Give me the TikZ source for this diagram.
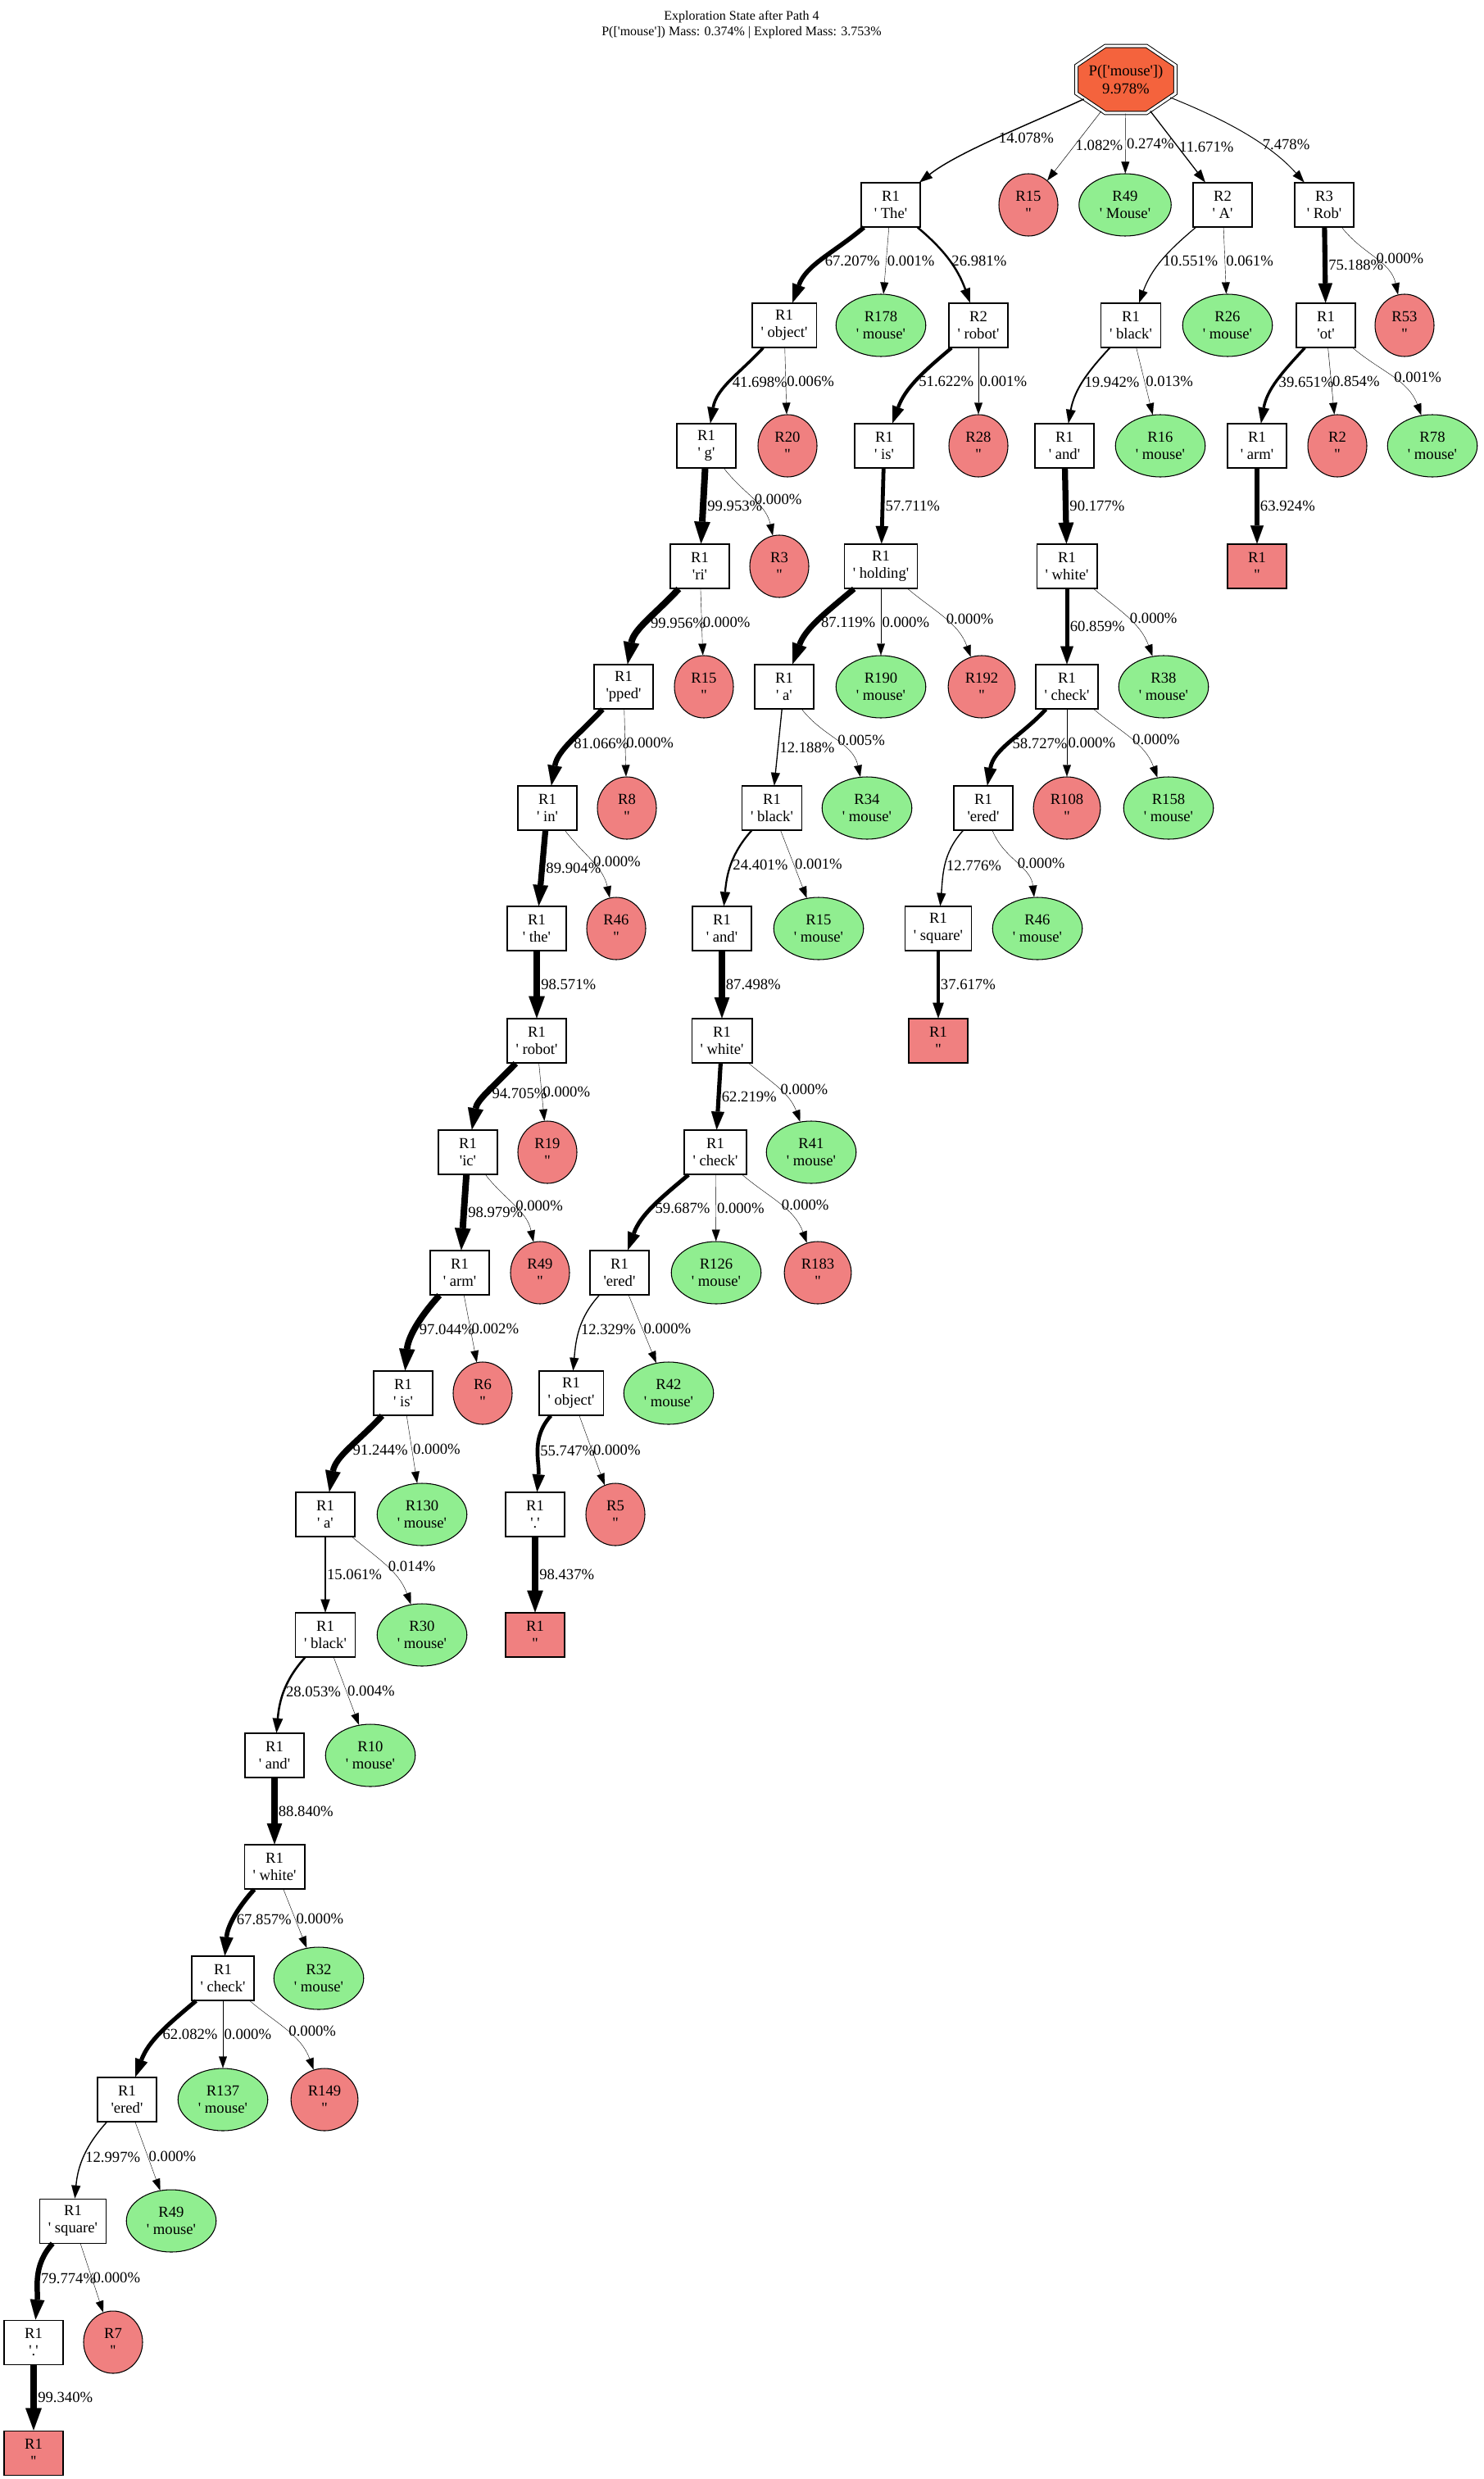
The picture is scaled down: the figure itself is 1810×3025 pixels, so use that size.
\documentclass[tikz,border=0pt]{standalone}
\usepackage{fontspec}
\setmainfont{Liberation Serif}[Ligatures=TeXOff]
\usetikzlibrary{arrows.meta,shapes.geometric}
\definecolor{rootfill}{RGB}{244,99,61}
\definecolor{lightcoral}{RGB}{240,128,128}
\definecolor{lightgreen}{RGB}{144,238,144}
\newcommand\gvfont{\fontsize{14}{16}\selectfont}
\tikzstyle{tokbox} = [draw, line width=0.8pt, fill=white, rectangle,
    minimum width=54pt, minimum height=40.5pt, inner xsep=7.9pt, inner ysep=0pt,
    align=center, font=\gvfont]
\tikzstyle{endbox} = [tokbox, fill=lightcoral]
\tikzstyle{redleaf} = [draw, line width=0.8pt, fill=lightcoral, ellipse,
    minimum width=54pt, minimum height=57pt, inner xsep=6.5pt, inner ysep=0pt,
    align=center, font=\gvfont]
\tikzstyle{greenleaf} = [redleaf, fill=lightgreen]
\tikzstyle{rootshape} = [regular polygon, regular polygon sides=8, minimum size=66.5pt,
    inner sep=0pt, xscale=1.476, transform shape, draw, line width=0.75pt,
    double=white, double distance=2.25pt, fill=rootfill]
\tikzstyle{lab} = [anchor=west, inner sep=1pt, pos=0.5, font=\gvfont]
\tikzset{
  pw/.code={%
    \pgfmathsetmacro\tiplen{10+1.7*#1}%
    \pgfmathsetmacro\tipwid{7+1.3*#1}%
    \tikzset{line width=#1pt,-{Triangle[length=\tiplen pt,width=\tipwid pt,line width=0.1pt]}}},
  leftnear/.style={out=-132,in=85},
  leftmid/.style={out=-133,in=80},
  leftfar/.style={out=-140,in=70},
  rightnear/.style={out=-68,in=96},
  rightmid/.style={out=-52,in=102},
  rightfar/.style={out=-40,in=110}
}
\begin{document}
\begin{tikzpicture}[x=0.75pt,y=-0.75pt]
\useasboundingbox (0,0) rectangle (1810,3025);
\node[align=center, font=\fontsize{12}{14.4}\selectfont] (title) at (905,30)
    {Exploration State after Path 4\\P(['mouse']) Mass: 0.374\% | Explored Mass: 3.753\%};

\begin{scope}[shift={(1374,97)}]
\node[rootshape] (root) at (0,0) {};
\end{scope}
\node[align=center, font=\gvfont] (rootlabel) at (root) {P(['mouse'])\\9.978\%};

% rank 1
\node[tokbox] (theL) at (1087,250) {R1\\' The'};
\node[redleaf] (R15a) at (1255,250) {R15\\''};
\node[greenleaf] (R49a) at (1373,250) {R49\\' Mouse'};
\node[tokbox] (aA) at (1492,250) {R2\\' A'};
\node[tokbox] (robB) at (1616,250) {R3\\' Rob'};
% rank 2
\node[tokbox] (objectL) at (957,397) {R1\\' object'};
\node[greenleaf] (R178) at (1075,397) {R178\\' mouse'};
\node[tokbox] (robotM) at (1194,397) {R2\\' robot'};
\node[tokbox] (blackA) at (1380,397) {R1\\' black'};
\node[greenleaf] (R26) at (1498,397) {R26\\' mouse'};
\node[tokbox] (otB) at (1618,397) {R1\\'ot'};
\node[redleaf] (R53) at (1714,397) {R53\\''};
% rank 3
\node[tokbox] (gL) at (862,544) {R1\\' g'};
\node[redleaf] (R20) at (961,544) {R20\\''};
\node[tokbox] (isM) at (1079,544) {R1\\' is'};
\node[redleaf] (R28) at (1194,544) {R28\\''};
\node[tokbox] (andA) at (1299,544) {R1\\' and'};
\node[greenleaf] (R16) at (1416,544) {R16\\' mouse'};
\node[tokbox] (armB) at (1534,544) {R1\\' arm'};
\node[redleaf] (R2) at (1632,544) {R2\\''};
\node[greenleaf] (R78) at (1748,544) {R78\\' mouse'};
% rank 4
\node[tokbox] (riL) at (854,691) {R1\\'ri'};
\node[redleaf] (R3) at (951,691) {R3\\''};
\node[tokbox] (holdingM) at (1075,691) {R1\\' holding'};
\node[tokbox] (whiteA) at (1302,691) {R1\\' white'};
\node[endbox] (endB) at (1534,691) {R1\\''};
% rank 5
\node[tokbox] (ppedL) at (761,838) {R1\\'pped'};
\node[redleaf] (R15b) at (859,838) {R15\\''};
\node[tokbox] (aM) at (957,838) {R1\\' a'};
\node[greenleaf] (R190) at (1075,838) {R190\\' mouse'};
\node[redleaf] (R192) at (1198,838) {R192\\''};
\node[tokbox] (checkA) at (1302,838) {R1\\' check'};
\node[greenleaf] (R38) at (1420,838) {R38\\' mouse'};
% rank 6
\node[tokbox] (inL) at (668,986) {R1\\' in'};
\node[redleaf] (R8) at (765,986) {R8\\''};
\node[tokbox] (blackM) at (942,986) {R1\\' black'};
\node[greenleaf] (R34) at (1058,986) {R34\\' mouse'};
\node[tokbox] (eredA) at (1200,986) {R1\\'ered'};
\node[redleaf] (R108) at (1302,986) {R108\\''};
\node[greenleaf] (R158) at (1426,986) {R158\\' mouse'};
% rank 7
\node[tokbox] (theLL) at (655,1133) {R1\\' the'};
\node[redleaf] (R46a) at (752,1133) {R46\\''};
\node[tokbox] (andM) at (881,1133) {R1\\' and'};
\node[greenleaf] (R15c) at (999,1133) {R15\\' mouse'};
\node[tokbox] (squareA) at (1145,1133) {R1\\' square'};
\node[greenleaf] (R46b) at (1266,1133) {R46\\' mouse'};
% rank 8
\node[tokbox] (robotL) at (655,1270) {R1\\' robot'};
\node[tokbox] (whiteM) at (881,1270) {R1\\' white'};
\node[endbox] (endA) at (1145,1270) {R1\\''};
% rank 9
\node[tokbox] (icL) at (571,1406) {R1\\'ic'};
\node[redleaf] (R19) at (668,1406) {R19\\''};
\node[tokbox] (checkM) at (873,1406) {R1\\' check'};
\node[greenleaf] (R41) at (990,1406) {R41\\' mouse'};
% rank 10
\node[tokbox] (armL) at (561,1553) {R1\\' arm'};
\node[redleaf] (R49b) at (659,1553) {R49\\''};
\node[tokbox] (eredM) at (756,1553) {R1\\'ered'};
\node[greenleaf] (R126) at (874,1553) {R126\\' mouse'};
\node[redleaf] (R183) at (998,1553) {R183\\''};
% rank 11
\node[tokbox] (isL) at (492,1700) {R1\\' is'};
\node[redleaf] (R6) at (589,1700) {R6\\''};
\node[tokbox] (objectM) at (697,1700) {R1\\' object'};
\node[greenleaf] (R42) at (816,1700) {R42\\' mouse'};
% rank 12
\node[tokbox] (aL) at (397,1848) {R1\\' a'};
\node[greenleaf] (R130) at (515,1848) {R130\\' mouse'};
\node[tokbox] (dotM) at (653,1848) {R1\\'.'};
\node[redleaf] (R5) at (751,1848) {R5\\''};
% rank 13
\node[tokbox] (blackL) at (397,1995) {R1\\' black'};
\node[greenleaf] (R30) at (515,1995) {R30\\' mouse'};
\node[endbox] (endM) at (653,1995) {R1\\''};
% rank 14
\node[tokbox] (andL) at (335,2142) {R1\\' and'};
\node[greenleaf] (R10) at (452,2142) {R10\\' mouse'};
% rank 15
\node[tokbox] (whiteL) at (335,2278) {R1\\' white'};
% rank 16
\node[tokbox] (checkL) at (272,2414) {R1\\' check'};
\node[greenleaf] (R32) at (389,2414) {R32\\' mouse'};
% rank 17
\node[tokbox] (eredL) at (155,2562) {R1\\'ered'};
\node[greenleaf] (R137) at (272,2562) {R137\\' mouse'};
\node[redleaf] (R149) at (396,2562) {R149\\''};
% rank 18
\node[tokbox] (squareL) at (89,2710) {R1\\' square'};
\node[greenleaf] (R49c) at (209,2710) {R49\\' mouse'};
% rank 19
\node[tokbox] (dotL) at (41,2858) {R1\\'.'};
\node[redleaf] (R7) at (138,2858) {R7\\''};
% rank 20
\node[endbox] (endL) at (41,2993) {R1\\''};

% edges from the root
\draw[pw=1.10] (root) .. controls (1260,150) and (1170,185) .. node[lab]{14.078\%} (theL);
\draw[pw=0.36] (root) -- node[lab]{1.082\%} (R15a);
\draw[pw=0.32] (root) -- node[lab]{0.274\%} (R49a);
\draw[pw=0.97] (root) -- node[lab]{11.671\%} (aA);
\draw[pw=0.73] (root) .. controls (1480,140) and (1545,170) .. node[lab,pos=0.66]{7.478\%} (robB);

% ' The' branch
\draw[pw=4.13] (theL) to[leftfar] node[lab]{67.207\%} (objectL);
\draw[pw=0.30] (theL) -- node[lab]{0.001\%} (R178);
\draw[pw=1.84] (theL) to[rightfar] node[lab]{26.981\%} (robotM);
\draw[pw=2.68] (objectL) to[leftmid] node[lab]{41.698\%} (gL);
\draw[pw=0.30] (objectL) -- node[lab]{0.006\%} (R20);
\draw[pw=6.00] (gL) -- node[lab]{99.953\%} (riL);
\draw[pw=0.30] (gL) to[rightmid] node[lab]{0.000\%} (R3);
\draw[pw=6.00] (riL) to[leftmid] node[lab]{99.956\%} (ppedL);
\draw[pw=0.30] (riL) -- node[lab]{0.000\%} (R15b);
\draw[pw=4.92] (ppedL) to[leftmid] node[lab]{81.066\%} (inL);
\draw[pw=0.30] (ppedL) -- node[lab]{0.000\%} (R8);
\draw[pw=5.42] (inL) -- node[lab]{89.904\%} (theLL);
\draw[pw=0.30] (inL) to[rightmid] node[lab]{0.000\%} (R46a);
\draw[pw=5.92] (theLL) -- node[lab]{98.571\%} (robotL);
\draw[pw=5.70] (robotL) to[leftmid] node[lab]{94.705\%} (icL);
\draw[pw=0.30] (robotL) -- node[lab]{0.000\%} (R19);
\draw[pw=5.94] (icL) -- node[lab]{98.979\%} (armL);
\draw[pw=0.30] (icL) to[rightmid] node[lab]{0.000\%} (R49b);
\draw[pw=5.83] (armL) to[leftnear] node[lab]{97.044\%} (isL);
\draw[pw=0.30] (armL) -- node[lab]{0.002\%} (R6);
\draw[pw=5.50] (isL) to[leftmid] node[lab]{91.244\%} (aL);
\draw[pw=0.30] (isL) -- node[lab]{0.000\%} (R130);
\draw[pw=1.16] (aL) -- node[lab]{15.061\%} (blackL);
\draw[pw=0.30] (aL) to[rightfar] node[lab]{0.014\%} (R30);
\draw[pw=1.90] (blackL) to[leftnear] node[lab]{28.053\%} (andL);
\draw[pw=0.30] (blackL) -- node[lab]{0.004\%} (R10);
\draw[pw=5.36] (andL) -- node[lab]{88.840\%} (whiteL);
\draw[pw=4.17] (whiteL) to[leftnear] node[lab]{67.857\%} (checkL);
\draw[pw=0.30] (whiteL) -- node[lab]{0.000\%} (R32);
\draw[pw=3.84] (checkL) to[leftfar] node[lab]{62.082\%} (eredL);
\draw[pw=0.30] (checkL) -- node[lab]{0.000\%} (R137);
\draw[pw=0.30] (checkL) to[rightfar] node[lab]{0.000\%} (R149);
\draw[pw=1.04] (eredL) to[leftnear] node[lab]{12.997\%} (squareL);
\draw[pw=0.30] (eredL) -- node[lab]{0.000\%} (R49c);
\draw[pw=4.85] (squareL) to[leftnear] node[lab]{79.774\%} (dotL);
\draw[pw=0.30] (squareL) -- node[lab]{0.000\%} (R7);
\draw[pw=5.96] (dotL) -- node[lab]{99.340\%} (endL);

% ' robot' branch
\draw[pw=3.24] (robotM) to[leftfar] node[lab]{51.622\%} (isM);
\draw[pw=0.30] (robotM) -- node[lab]{0.001\%} (R28);
\draw[pw=3.59] (isM) -- node[lab]{57.711\%} (holdingM);
\draw[pw=5.27] (holdingM) to[leftfar] node[lab]{87.119\%} (aM);
\draw[pw=0.30] (holdingM) -- node[lab]{0.000\%} (R190);
\draw[pw=0.30] (holdingM) to[rightfar] node[lab]{0.000\%} (R192);
\draw[pw=0.99] (aM) -- node[lab]{12.188\%} (blackM);
\draw[pw=0.30] (aM) to[rightmid] node[lab]{0.005\%} (R34);
\draw[pw=1.69] (blackM) to[leftnear] node[lab]{24.401\%} (andM);
\draw[pw=0.30] (blackM) -- node[lab]{0.001\%} (R15c);
\draw[pw=5.29] (andM) -- node[lab]{87.498\%} (whiteM);
\draw[pw=3.85] (whiteM) -- node[lab]{62.219\%} (checkM);
\draw[pw=0.30] (whiteM) to[rightfar] node[lab]{0.000\%} (R41);
\draw[pw=3.70] (checkM) to[leftfar] node[lab]{59.687\%} (eredM);
\draw[pw=0.30] (checkM) -- node[lab]{0.000\%} (R126);
\draw[pw=0.30] (checkM) to[rightfar] node[lab]{0.000\%} (R183);
\draw[pw=1.00] (eredM) to[leftnear] node[lab]{12.329\%} (objectM);
\draw[pw=0.30] (eredM) -- node[lab]{0.000\%} (R42);
\draw[pw=3.48] (objectM) to[leftnear] node[lab]{55.747\%} (dotM);
\draw[pw=0.30] (objectM) -- node[lab]{0.000\%} (R5);
\draw[pw=5.91] (dotM) -- node[lab]{98.437\%} (endM);

% ' A' branch
\draw[pw=0.90] (aA) to[leftfar] node[lab]{10.551\%} (blackA);
\draw[pw=0.30] (aA) -- node[lab]{0.061\%} (R26);
\draw[pw=1.44] (blackA) to[leftmid] node[lab]{19.942\%} (andA);
\draw[pw=0.30] (blackA) -- node[lab]{0.013\%} (R16);
\draw[pw=5.44] (andA) -- node[lab]{90.177\%} (whiteA);
\draw[pw=3.77] (whiteA) -- node[lab]{60.859\%} (checkA);
\draw[pw=0.30] (whiteA) to[rightfar] node[lab]{0.000\%} (R38);
\draw[pw=3.65] (checkA) to[leftmid] node[lab]{58.727\%} (eredA);
\draw[pw=0.30] (checkA) -- node[lab]{0.000\%} (R108);
\draw[pw=0.30] (checkA) to[rightfar] node[lab]{0.000\%} (R158);
\draw[pw=1.03] (eredA) to[leftnear] node[lab]{12.776\%} (squareA);
\draw[pw=0.30] (eredA) to[rightnear] node[lab]{0.000\%} (R46b);
\draw[pw=2.44] (squareA) -- node[lab]{37.617\%} (endA);

% ' Rob' branch
\draw[pw=4.59] (robB) -- node[lab]{75.188\%} (otB);
\draw[pw=0.30] (robB) to[rightmid] node[lab]{0.000\%} (R53);
\draw[pw=2.56] (otB) to[leftmid] node[lab]{39.651\%} (armB);
\draw[pw=0.35] (otB) -- node[lab]{0.854\%} (R2);
\draw[pw=0.30] (otB) to[rightfar] node[lab]{0.001\%} (R78);
\draw[pw=3.94] (armB) -- node[lab]{63.924\%} (endB);
\end{tikzpicture}
\end{document}
